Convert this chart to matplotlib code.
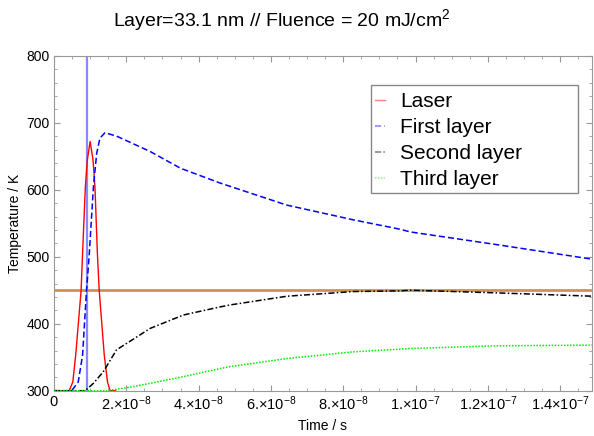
import numpy as np
import matplotlib
matplotlib.use("Agg")
import matplotlib.pyplot as plt
from matplotlib.patches import Rectangle
from matplotlib.ticker import FixedLocator, MultipleLocator

plt.rcParams.update({
    "font.family": ["Liberation Sans", "DejaVu Sans"],
    "mathtext.fontset": "custom",
    "mathtext.rm": "Liberation Sans",
    "mathtext.it": "Liberation Sans:italic",
})

# time in units of 1e-8 s, temperature in K
t_laser = [0.0, 0.42, 0.52, 0.60, 0.75, 0.79, 0.867, 0.92, 1.00, 1.08, 1.133, 1.20, 1.25, 1.39, 1.48, 1.55, 1.7]
T_laser = [300, 300, 313, 353, 450, 505, 604, 644, 672, 644, 604, 505, 450, 353, 313, 300, 300]

t_first = [0.0, 0.49, 0.67, 0.79, 0.90, 0.977, 1.09, 1.18, 1.27, 1.41, 1.73, 2.66, 3.5, 4.59, 4.87,
           6.44, 8.28, 9.57, 9.85, 12.25, 14.92]
T_first = [300, 300, 313, 353, 450, 505, 604, 654, 677, 685, 680, 657, 632, 610, 605,
           577, 555, 541, 537, 518, 496]

t_second = [0.0, 0.86, 1.09, 1.36, 1.73, 2.66, 3.58, 4.59, 4.87, 6.44, 8.28, 9.57, 9.85, 12.25, 14.92]
T_second = [300, 300, 311, 328, 361, 393, 413, 425, 428, 441, 448, 449, 450, 446, 441]

t_third = [0.0, 1.46, 2.19, 2.66, 3.58, 4.59, 4.87, 6.44, 8.28, 9.57, 9.85, 12.25, 14.92]
T_third = [300, 300, 306, 311, 321, 333, 336, 348, 358, 362, 363, 367, 368]

t_marker = 0.90      # vertical line
T_limit = 450        # horizontal line

xticks = [0, 2e-8, 4e-8, 6e-8, 8e-8, 1e-7, 1.2e-7, 1.4e-7]
xlabels = ["0", r"2.$\times$10$^{-8}$", r"4.$\times$10$^{-8}$", r"6.$\times$10$^{-8}$",
           r"8.$\times$10$^{-8}$", r"1.$\times$10$^{-7}$", r"1.2$\times$10$^{-7}$", r"1.4$\times$10$^{-7}$"]
yticks = [300, 400, 500, 600, 700, 800]

s = lambda v: np.array(v) * 1e-8

fig = plt.figure(figsize=(5.94, 4.36), dpi=100)
ax = fig.add_axes([54 / 594, 1 - 390.7 / 436, 538 / 594, 335 / 436])

ax.axvline(t_marker * 1e-8, color="#8888ff", lw=1.6, zorder=2)
ax.axhline(T_limit, color="#c8964e", lw=2.0, zorder=2)
ax.plot(s(t_laser), T_laser, color="#ff0000", lw=1.0, label="Laser", zorder=3)
ax.plot(s(t_first), T_first, color="#0000ff", lw=1.1, ls=(0, (4, 2)), label="First layer", zorder=3)
ax.plot(s(t_second), T_second, color="black", lw=1.1, ls=(0, (4, 1.5, 1, 1.5)), label="Second layer", zorder=3)
ax.plot(s(t_third), T_third, color="#00ee00", lw=1.1, ls=(0, (1, 1)), label="Third layer", zorder=3)

ax.set_xlim(0, 1.488e-7)
ax.set_ylim(300, 800)
ax.xaxis.set_major_locator(FixedLocator(xticks))
ax.set_xticklabels(xlabels)
ax.xaxis.set_minor_locator(MultipleLocator(0.5e-8))
ax.set_yticks(yticks)
ax.yaxis.set_minor_locator(MultipleLocator(20))
ax.tick_params(which="both", direction="in", top=True, right=True, color="#999999",
               labelsize=10, labelcolor="black", pad=3)
ax.tick_params(axis="x", labelsize=10.5)
ax.tick_params(which="major", length=4)
ax.tick_params(which="minor", length=2)
for sp in ax.spines.values():
    sp.set_color("#999999")

ax.set_xlabel("Time / s", fontsize=10, labelpad=4)
ax.set_ylabel("Temperature / K", fontsize=10, labelpad=3)
fig.text(281.5 / 594, 1 - 20 / 436, r"Layer=33.1 nm // Fluence = 20 mJ/cm$^2$", ha="center", va="center",
         fontsize=14)

# legend frame (wider than its entries, as in the original)
ax.add_patch(Rectangle(((370.7 - 54) / 538, (390.7 - 193) / 335), (578 - 370.7) / 538, (193 - 85) / 335,
                       transform=ax.transAxes, facecolor="white", edgecolor="#888888", lw=1.0, zorder=5))
leg = ax.legend(loc="upper left", bbox_to_anchor=((370.7 - 54) / 538, (390.7 - 88) / 335), borderaxespad=0,
                fontsize=15, handlelength=0.5, handletextpad=0.72, labelspacing=0.34,
                frameon=False, borderpad=0.2)
leg.set_zorder(6)
for h in leg.get_lines():
    h.set_alpha(0.5)

fig.savefig("out.png", dpi=100)
